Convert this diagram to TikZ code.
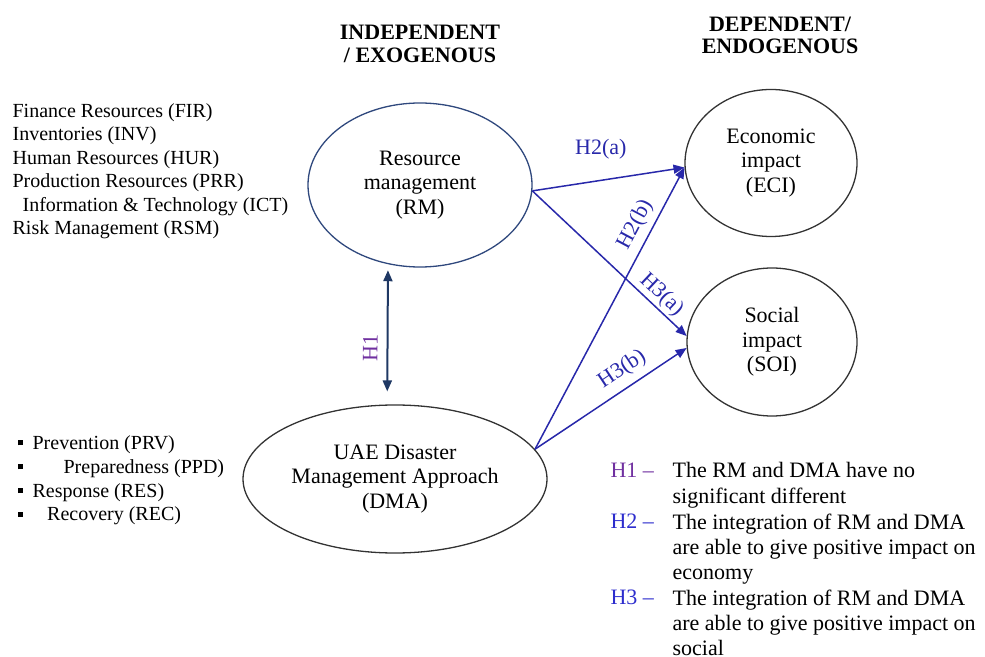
\documentclass[tikz,border=0pt]{standalone}
\usepackage{fontspec}
\setmainfont{Liberation Serif}
\usepackage{tikz}
\usetikzlibrary{arrows.meta,shapes.geometric,positioning}

\definecolor{pathblue}{RGB}{40,40,170}
\definecolor{keyblue}{RGB}{45,45,205}
\definecolor{honenavy}{RGB}{31,56,100}
\definecolor{hpurple}{RGB}{112,48,160}
\definecolor{rmedge}{RGB}{47,72,125}

\newcommand{\sqitem}[1]{\raisebox{2pt}{\rule{2.6pt}{2.6pt}}\hspace*{#1}}

\begin{document}
\begin{tikzpicture}[x=0.5pt,y=-0.5pt,semithick,
  construct/.style={draw=black!80,ellipse,inner sep=0pt,align=center,line width=0.65pt,
    font=\fontsize{11}{12.3}\selectfont},
  hypo/.style={draw=pathblue,line width=0.75pt,-{Triangle[length=5.5pt,width=4.5pt]}},
  hlabel/.style={text=pathblue,inner sep=1pt,font=\fontsize{11}{12}\selectfont},
  heading/.style={inner sep=0pt,align=center,font=\bfseries\fontsize{11}{11.2}\selectfont},
  items/.style={anchor=north west,inner sep=0pt,align=left},
  hkey/.style={anchor=base west,inner sep=0pt,font=\fontsize{11}{12.7}\selectfont},
  legend/.style={anchor=north west,inner sep=0pt,align=left,font=\fontsize{11}{12.7}\selectfont}]

  \useasboundingbox (0,0) rectangle (985,657);

  % headings
  \node[heading,anchor=north] (indep) at (420,25) {INDEPENDENT\\/ EXOGENOUS};
  \node[heading,anchor=north] (dep) at (780,16) {DEPENDENT/\\ENDOGENOUS};

  % constructs
  \node[construct,draw=rmedge,minimum width=112pt,minimum height=82pt] (rm) at (420,185) {Resource\\management\\(RM)};
  \node[construct,minimum width=152pt,minimum height=74pt] (dma) at (395,479) {UAE Disaster\\Management Approach\\(DMA)};
  \node[construct,minimum width=86pt,minimum height=73.5pt] (eci) at (771,163) {Economic\\impact\\(ECI)};
  \node[construct,minimum width=85pt,minimum height=74pt] (soi) at (772,342) {Social\\impact\\(SOI)};

  % indicators
  \node[items,font=\fontsize{10}{11.7}\selectfont] (rmitems) at (12,103)
    {Finance Resources (FIR)\\Inventories (INV)\\Human Resources (HUR)\\Production Resources (PRR)\\
     \hspace*{5pt}Information \& Technology (ICT)\\Risk Management (RSM)};
  \node[items,font=\fontsize{10}{11.9}\selectfont] (dmaitems) at (17,435)
    {\sqitem{4.9pt}Prevention (PRV)\\\sqitem{20.4pt}Preparedness (PPD)\\
     \sqitem{4.9pt}Response (RES)\\\sqitem{12.2pt}Recovery (REC)};

  % hypotheses
  \draw[hypo] (rm.-3) -- node[hlabel,pos=0.45,above=9pt] (h2a) {H2(a)} (eci.183);
  \draw[hypo] (rm.-3) -- node[hlabel,pos=0.78,sloped,above=0pt] (h3a) {H3(a)} (soi.176);
  \draw[hypo] (dma.12) -- node[hlabel,pos=0.77,sloped,above=2pt] (h2b) {H2(b)} (eci.183);
  \draw[hypo] (dma.12) -- node[hlabel,pos=0.64,sloped,above=2.5pt] (h3b) {H3(b)} (soi.184);
  \draw[draw=honenavy,line width=1pt,{Triangle[length=5.5pt,width=4.5pt]}-{Triangle[length=5.5pt,width=4.5pt]},
    shorten <=3pt,shorten >=6.5pt] (rm.248) -- node[pos=0.6,sloped,above=3.5pt,inner sep=1pt,text=hpurple,
    font=\fontsize{11}{12}\selectfont] (h1) {H1} (dma.96);

  % key
  \node[hkey,text=hpurple] (h1key) at (610,477) {H1 --};
  \node[legend] (h1text) at (672,462) {The RM and DMA have no\\significant different};
  \node[hkey,text=keyblue] (h2key) at (610,528) {H2 --};
  \node[legend] (h2text) at (672,513) {The integration of RM and DMA\\are able to give positive impact on\\economy};
  \node[hkey,text=keyblue] (h3key) at (610,604) {H3 --};
  \node[legend] (h3text) at (672,589) {The integration of RM and DMA\\are able to give positive impact on\\social};
\end{tikzpicture}
\end{document}
